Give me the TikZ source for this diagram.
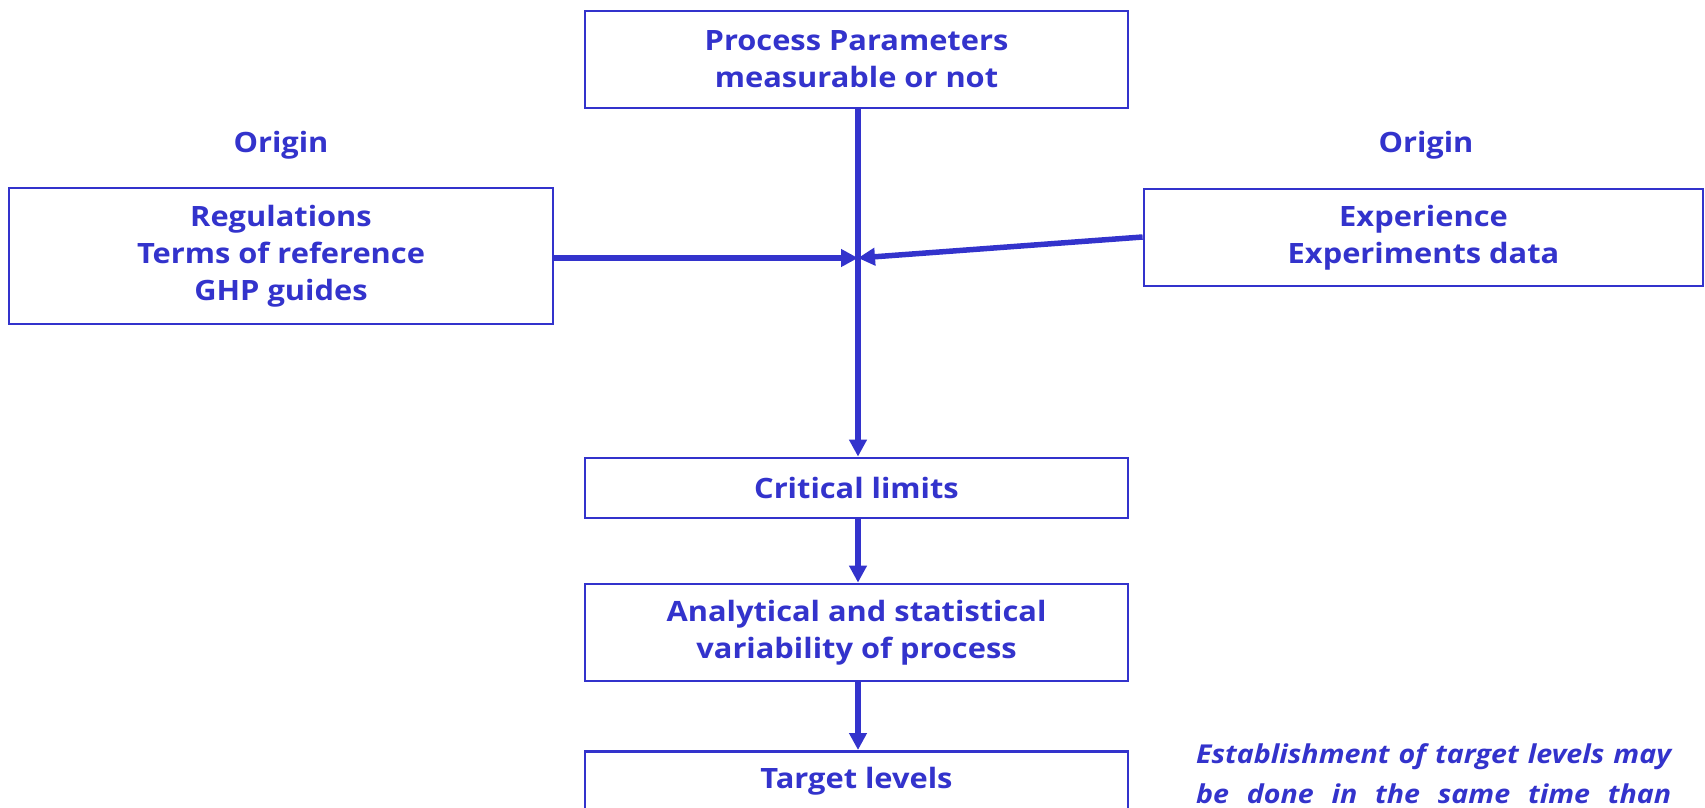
\documentclass[tikz,border=0pt]{standalone}
\usepackage{fontspec}
\setmainfont[FakeStretch=1.1]{Open Sans}
\usetikzlibrary{arrows.meta}
\definecolor{flowblue}{RGB}{51,51,204}
\begin{document}
\begin{tikzpicture}[x=1pt,y=-1pt,
  box/.style={draw=flowblue,line width=2.8pt,fill=white,inner sep=0pt,
    text=flowblue,align=center,font=\fontsize{28}{37}\selectfont\bfseries},
  lbl/.style={text=flowblue,inner sep=0pt,font=\fontsize{28}{37}\selectfont\bfseries},
  note/.style={text=flowblue,inner sep=0pt,anchor=west,
    font=\fontsize{26}{37}\selectfont\bfseries\itshape},
  flow/.style={draw=flowblue,line width=5.5pt,
    -{Triangle[length=17pt,width=17pt]}}]
\useasboundingbox (0,0) rectangle (1705,808);
\clip (0,0) rectangle (1705,808);
% boxes
\node[box,minimum width=543pt,minimum height=97pt] (params) at (856.5,59.5)
  {Process Parameters\\measurable or not};
\node[box,minimum width=544pt,minimum height=136pt] (regs) at (281,256)
  {Regulations\\Terms of reference\\GHP guides};
\node[box,minimum width=559pt,minimum height=97pt] (exp) at (1423.5,237.5)
  {Experience\\Experiments data};
\node[box,minimum width=543pt,minimum height=60pt] (crit) at (856.5,488)
  {Critical limits};
\node[box,minimum width=543pt,minimum height=97pt] (var) at (856.5,632.5)
  {Analytical and statistical\\variability of process};
\node[box,minimum width=543pt,minimum height=100pt,anchor=north] (target) at (856.5,750) {};
\node[lbl] (tgtxt) at (856.5,781) {Target levels};
% labels above the side boxes
\node[lbl] (orl) at (281,145) {Origin};
\node[lbl] (orr) at (1426,145) {Origin};
% junction on the main line
\coordinate (join) at (858,258);
% connectors
\draw[flow] (params.south -| join) -- (crit.north -| join);
\draw[flow] (regs.east |- join) -- (join);
\draw[flow] (exp.west |- 0,237) -- (join);
\draw[flow] (crit.south -| join) -- (var.north -| join);
\draw[flow] (var.south -| join) -- (target.north -| join);
% side note
\node[note] (note1) at (1196,757) {\makebox[475pt][s]{Establishment of target levels may}};
\node[note] (note2) at (1196,794) {\makebox[475pt][s]{be done in the same time than}};
\end{tikzpicture}
\end{document}
